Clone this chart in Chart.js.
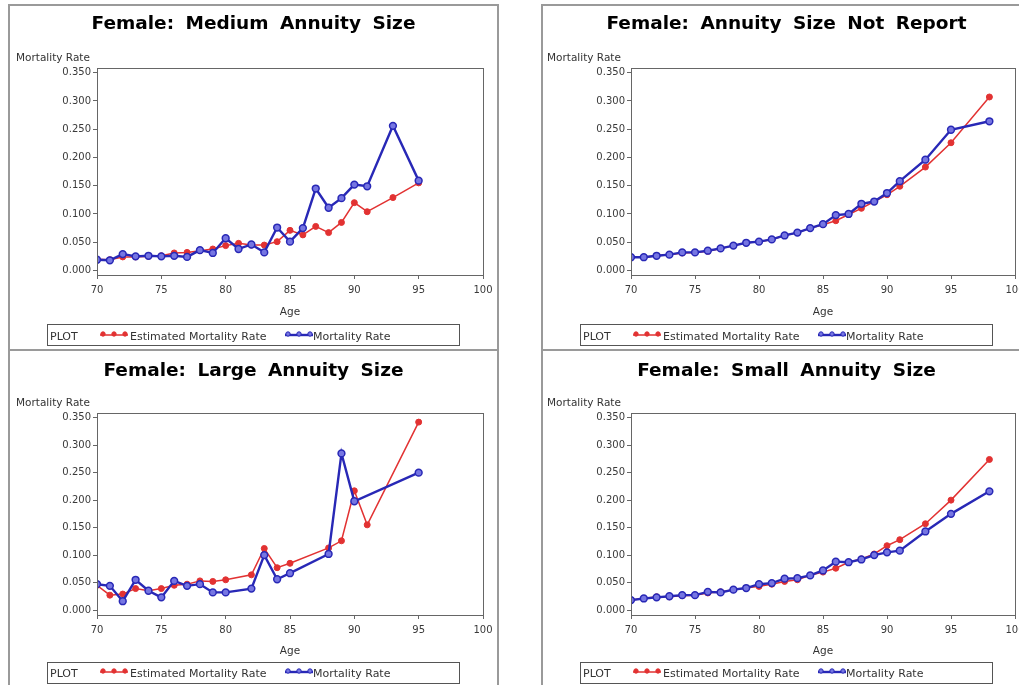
<!DOCTYPE html>
<html>
<head>
<meta charset="utf-8">
<title>Female mortality rates by annuity size</title>
<script src="https://cdn.jsdelivr.net/npm/chart.js@4.4.1/dist/chart.umd.min.js"></script>
<style>
  html, body { margin: 0; padding: 0; background: #fff; }
  body { width: 1019px; height: 685px; overflow: hidden; position: relative; }
  .frame { position: absolute; width: 491px; height: 347px; box-sizing: border-box; border: 2px solid #9a9a9a; }
  canvas { position: absolute; }
</style>
</head>
<body>
<div class="frame" style="left:8px;top:4px"></div>
<div class="frame" style="left:541px;top:4px"></div>
<div class="frame" style="left:8px;top:349px"></div>
<div class="frame" style="left:541px;top:349px"></div>
<canvas id="p1" width="491" height="348" style="left:8px;top:4px"></canvas>
<canvas id="p2" width="491" height="348" style="left:541px;top:4px"></canvas>
<canvas id="p3" width="491" height="348" style="left:8px;top:350px"></canvas>
<canvas id="p4" width="491" height="348" style="left:541px;top:350px"></canvas>
<script>
// ---- data -------------------------------------------------------------
const xTickValues = [70, 75, 80, 85, 90, 95, 100];
const yTickValues = [0.000, 0.050, 0.100, 0.150, 0.200, 0.250, 0.300, 0.350];

// Medium annuity size
const mediumAges = [70, 71, 72, 73, 74, 75, 76, 77, 78, 79, 80, 81, 82, 83, 84, 85, 86, 87, 88, 89, 90, 91, 93, 95];
const mediumEstimated = [0.020, 0.019, 0.024, 0.024, 0.025, 0.026, 0.031, 0.032, 0.035, 0.038, 0.044, 0.048,
                         0.045, 0.045, 0.051, 0.071, 0.063, 0.078, 0.067, 0.085, 0.120, 0.104, 0.129, 0.155];
const mediumObserved  = [0.019, 0.018, 0.029, 0.025, 0.026, 0.025, 0.026, 0.024, 0.036, 0.031, 0.057, 0.038,
                         0.046, 0.032, 0.076, 0.051, 0.075, 0.145, 0.111, 0.128, 0.152, 0.149, 0.256, 0.159];

// Annuity size not reported
const notReportedAges = [70, 71, 72, 73, 74, 75, 76, 77, 78, 79, 80, 81, 82, 83, 84, 85, 86, 87, 88, 89, 90, 91, 93, 95, 98];
const notReportedEstimated = [0.0235, 0.0235, 0.026, 0.028, 0.031, 0.032, 0.034, 0.039, 0.044, 0.049, 0.051, 0.055, 0.062,
                              0.067, 0.075, 0.081, 0.088, 0.099, 0.110, 0.122, 0.134, 0.149, 0.183, 0.226, 0.307];
const notReportedObserved  = [0.0235, 0.0235, 0.026, 0.028, 0.032, 0.032, 0.035, 0.039, 0.044, 0.049, 0.051, 0.055, 0.062,
                              0.067, 0.075, 0.082, 0.098, 0.100, 0.118, 0.122, 0.137, 0.158, 0.196, 0.249, 0.264];

// Large annuity size
const largeEstimatedAges = [70, 71, 72, 73, 74, 75, 76, 77, 78, 79, 80, 82, 83, 84, 85, 88, 89, 90, 91, 95];
const largeEstimated = [0.045, 0.027, 0.029, 0.039, 0.035, 0.039, 0.045, 0.047, 0.053, 0.052, 0.055, 0.064,
                        0.112, 0.077, 0.085, 0.113, 0.126, 0.217, 0.155, 0.342];
const largeObservedAges = [70, 71, 72, 73, 74, 75, 76, 77, 78, 79, 80, 82, 83, 84, 85, 88, 89, 90, 95];
const largeObserved = [0.047, 0.044, 0.016, 0.055, 0.035, 0.023, 0.053, 0.044, 0.047, 0.032, 0.032, 0.039,
                       0.100, 0.056, 0.067, 0.102, 0.285, 0.198, 0.250];

// Small annuity size
const smallAges = [70, 71, 72, 73, 74, 75, 76, 77, 78, 79, 80, 81, 82, 83, 84, 85, 86, 87, 88, 89, 90, 91, 93, 95, 98];
const smallEstimated = [0.018, 0.021, 0.024, 0.024, 0.026, 0.027, 0.031, 0.033, 0.037, 0.040, 0.043, 0.047, 0.052,
                        0.055, 0.063, 0.069, 0.076, 0.087, 0.093, 0.102, 0.117, 0.128, 0.157, 0.200, 0.274];
const smallObserved  = [0.018, 0.021, 0.023, 0.025, 0.027, 0.027, 0.033, 0.032, 0.037, 0.040, 0.047, 0.049, 0.057,
                        0.058, 0.063, 0.072, 0.088, 0.087, 0.092, 0.100, 0.105, 0.108, 0.143, 0.175, 0.216];

const seriesNames = ['Estimated Mortality Rate', 'Mortality Rate'];

// ---- panel layout ---------------------------------------------------------
const panels = [
  { id: 'p1', row: 0, col: 0, title: 'Female: Medium Annuity Size',
    estAges: mediumAges, est: mediumEstimated, obsAges: mediumAges, obs: mediumObserved },
  { id: 'p2', row: 0, col: 1, title: 'Female: Annuity Size Not Report',
    estAges: notReportedAges, est: notReportedEstimated, obsAges: notReportedAges, obs: notReportedObserved },
  { id: 'p3', row: 1, col: 0, title: 'Female: Large Annuity Size',
    estAges: largeEstimatedAges, est: largeEstimated, obsAges: largeObservedAges, obs: largeObserved },
  { id: 'p4', row: 1, col: 1, title: 'Female: Small Annuity Size',
    estAges: smallAges, est: smallEstimated, obsAges: smallAges, obs: smallObserved }
];

const rowLayout = [
  { padTop: 64, padBottom: 27, yMin: -0.008, yMax: 0.3583, titleBase: 24.5, yTitleBase: 56.5,
    legendTop: 320, legendBase: 336, ageGap: 37.5 },
  { padTop: 63, padBottom: 33, yMin: -0.0091, yMax: 0.3586, titleBase: 26, yTitleBase: 56,
    legendTop: 312, legendBase: 327, ageGap: 36 }
];
const colLayout = [
  { padLeft: 39, padRight: 16, yTitleX: 8 },
  { padLeft: 40, padRight: 17, yTitleX: 6 }
];

const FONT = '"DejaVu Sans", "Liberation Sans", sans-serif';
const AXIS_W = 50, AXIS_H = 50;
const RED = '#e23232', BLUE = '#2828b6';

// Frame, panel title, vertical-axis caption and boxed "PLOT" legend
const panelDecor = {
  id: 'panelDecor',
  afterDraw(chart, args, o) {
    const { ctx, chartArea: a } = chart;
    ctx.save();

    // box round the plot area
    ctx.strokeStyle = '#666';
    ctx.lineWidth = 1;
    const l = Math.round(a.left) + 0.5, t = Math.round(a.top) + 0.5;
    ctx.strokeRect(l, t, Math.round(a.right) - Math.round(a.left), Math.round(a.bottom) - Math.round(a.top));

    // title
    ctx.fillStyle = '#000';
    ctx.font = 'bold 18.5px ' + FONT;
    ctx.textAlign = 'center';
    ctx.textBaseline = 'alphabetic';
    if ('wordSpacing' in ctx) ctx.wordSpacing = '5px';
    ctx.fillText(o.title, chart.width / 2, o.titleBase);
    if ('wordSpacing' in ctx) ctx.wordSpacing = '0px';

    // vertical-axis caption, written level above the axis
    ctx.fillStyle = '#333';
    ctx.font = '10.5px ' + FONT;
    ctx.textAlign = 'left';
    ctx.fillText(o.yTitle, o.yTitleX, o.yTitleBase);

    // legend box
    const L = o.legend;
    ctx.strokeStyle = '#555';
    ctx.strokeRect(L.x + 0.5, L.y + 0.5, L.w, L.h);
    ctx.font = '11px ' + FONT;
    ctx.fillStyle = '#333';
    ctx.fillText('PLOT', L.x + 3, L.base);

    const slots = [{ sx: 53, tx: 83 }, { sx: 238, tx: 266 }];
    chart.data.datasets.forEach((ds, i) => {
      const s = slots[i];
      const y = L.base - 5;
      const x0 = L.x + s.sx;
      ctx.strokeStyle = ds.borderColor;
      ctx.lineWidth = ds.borderWidth;
      ctx.beginPath();
      ctx.moveTo(x0, y);
      ctx.lineTo(x0 + 28, y);
      ctx.stroke();
      [3, 14, 25].forEach(dx => {
        ctx.beginPath();
        ctx.arc(x0 + dx, y - 1, 2.2, 0, Math.PI * 2);
        ctx.fillStyle = ds.pointBackgroundColor;
        ctx.fill();
        ctx.lineWidth = 1;
        ctx.strokeStyle = ds.pointBorderColor;
        ctx.stroke();
      });
      ctx.fillStyle = '#333';
      ctx.fillText(ds.label, L.x + s.tx, L.base);
    });
    ctx.restore();
  }
};

const toPoints = (ages, vals) => ages.map((a, i) => ({ x: a, y: vals[i] }));

panels.forEach(p => {
  const r = rowLayout[p.row], c = colLayout[p.col];
  new Chart(document.getElementById(p.id), {
    type: 'line',
    data: {
      datasets: [
        {
          label: seriesNames[0],
          data: toPoints(p.estAges, p.est),
          borderColor: RED, borderWidth: 1.5,
          pointBackgroundColor: RED, pointBorderColor: RED,
          pointRadius: 3, pointBorderWidth: 1, order: 1
        },
        {
          label: seriesNames[1],
          data: toPoints(p.obsAges, p.obs),
          borderColor: BLUE, borderWidth: 2.4,
          pointBackgroundColor: '#7676e2', pointBorderColor: BLUE,
          pointRadius: 3.4, pointBorderWidth: 1.5, order: 0
        }
      ]
    },
    options: {
      responsive: false,
      animation: false,
      events: [],
      layout: { padding: { top: r.padTop, bottom: r.padBottom, left: c.padLeft, right: c.padRight } },
      elements: { line: { tension: 0 } },
      scales: {
        x: {
          type: 'linear', position: 'bottom', min: 70, max: 100,
          afterBuildTicks: s => { s.ticks = xTickValues.map(v => ({ value: v })); },
          afterFit: s => { s.height = AXIS_H; },
          grid: { display: true, drawOnChartArea: false, drawTicks: true, tickLength: 4, color: '#666' },
          border: { display: true, color: '#666' },
          ticks: { font: { family: FONT, size: 10 }, color: '#3a3a3a', padding: 5,
                   maxRotation: 0, autoSkip: false, callback: v => String(v) },
          title: { display: true, text: 'Age', color: '#333', font: { family: FONT, size: 10.5 },
                   padding: { top: 0, bottom: AXIS_H - r.ageGap - 6.3 } }
        },
        y: {
          type: 'linear', position: 'left', min: r.yMin, max: r.yMax,
          afterBuildTicks: s => { s.ticks = yTickValues.map(v => ({ value: v })); },
          afterFit: s => { s.width = AXIS_W; },
          grid: { display: true, drawOnChartArea: false, drawTicks: true, tickLength: 4, color: '#666' },
          border: { display: true, color: '#666' },
          ticks: { font: { family: FONT, size: 10 }, color: '#3a3a3a', padding: 2,
                   autoSkip: false, callback: v => v.toFixed(3) }
        }
      },
      plugins: {
        legend: { display: false },
        title: { display: false },
        tooltip: { enabled: false },
        panelDecor: {
          title: p.title,
          titleBase: r.titleBase,
          yTitle: 'Mortality Rate',
          yTitleX: c.yTitleX,
          yTitleBase: r.yTitleBase,
          legend: { x: 39, y: r.legendTop, w: 412, h: 21, base: r.legendBase }
        }
      }
    },
    plugins: [panelDecor]
  });
});
</script>
</body>
</html>
